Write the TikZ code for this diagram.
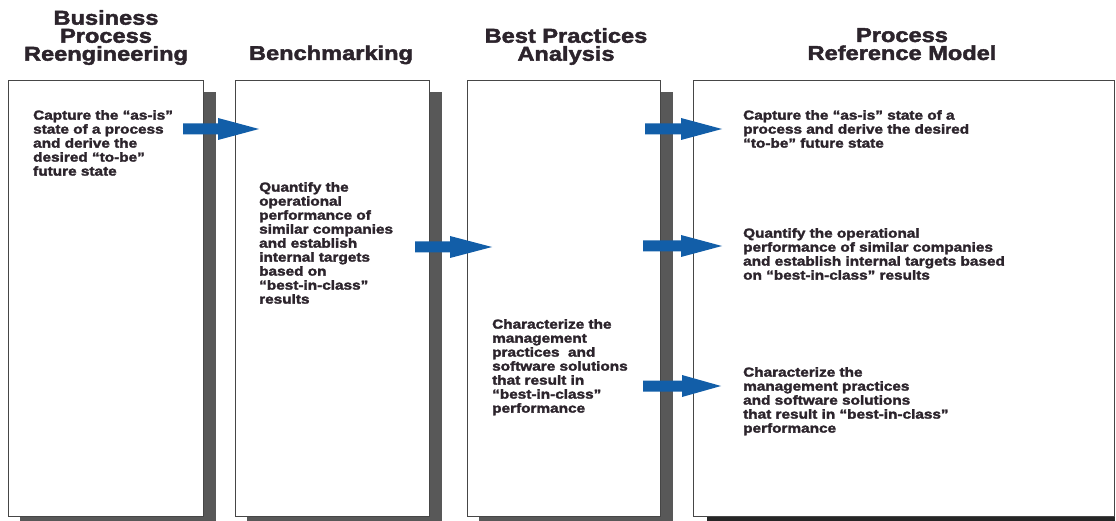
\documentclass[tikz,border=0pt]{standalone}
\usepackage{fontspec}
\newfontfamily\heavy{Liberation Sans Bold}[FakeStretch=1.18,FakeBold=2.2]
\usetikzlibrary{backgrounds}
\definecolor{arrowblue}{RGB}{18,94,168}
\definecolor{inkdark}{RGB}{44,36,44}
\definecolor{shadowgray}{RGB}{88,88,88}
\definecolor{framegray}{RGB}{70,70,70}
\tikzset{
  title/.style={font=\heavy\fontsize{20}{18}\selectfont, text=inkdark, align=center, inner sep=0pt},
  body/.style={font=\heavy\fontsize{13}{14}\selectfont, text=inkdark, align=left, inner sep=0pt, anchor=north west},
  panel/.style={draw=framegray, line width=1pt, fill=white, minimum height=435pt, inner sep=0pt},
  flowarrow/.style={fill=arrowblue}
}
% block arrow: tail x, head start x, tip x, centre y
\newcommand\blockarrow[4]{%
  \fill[flowarrow] (#1,#4-5.5) -- (#2,#4-5.5) -- (#2,#4-11) -- (#3,#4) -- (#2,#4+11) -- (#2,#4+5.5) -- (#1,#4+5.5) -- cycle;}
\begin{document}
\begin{tikzpicture}[x=1pt,y=-1pt]
\useasboundingbox (0,0) rectangle (1116,521);

% panels
\node[panel, minimum width=195pt] (box1) at (105.5,298.5) {};
\node[panel, minimum width=194pt] (box2) at (332,298.5) {};
\node[panel, minimum width=193pt] (box3) at (563.5,298.5) {};
\node[panel, minimum width=421pt] (box4) at (904,298.5) {};

\begin{scope}[on background layer]
  \foreach \b in {box1,box2,box3}
    \fill[shadowgray] ([xshift=12pt,yshift=-12pt]\b.north west) rectangle ([xshift=12pt,yshift=-5pt]\b.south east);
  \fill[black!85] ([xshift=14pt,yshift=-12pt]box4.north west) rectangle ([yshift=-5pt]box4.south east);
\end{scope}

% column titles
\node[title, anchor=north] (t1) at (106,10) {Business\\Process\\Reengineering};
\node[title, anchor=base] (t2) at (331,60) {Benchmarking};
\node[title, anchor=north] (t3) at (566,28) {Best Practices\\Analysis};
\node[title, anchor=north] (t4) at (902,28) {Process\\Reference Model};

% panel texts
\node[body] (b1) at (33,110) {Capture the “as-is”\\state of a process\\and derive the\\desired “to-be”\\future state};
\node[body] (b2) at (259,182) {Quantify the\\operational\\performance of\\similar companies\\and establish\\internal targets\\based on\\“best-in-class”\\results};
\node[body] (b3) at (492,319) {Characterize the\\management\\practices\ \ and\\software solutions\\that result in\\“best-in-class”\\performance};
\node[body] (b4a) at (743,110) {Capture the “as-is” state of a\\process and derive the desired\\“to-be” future state};
\node[body] (b4b) at (743,228) {Quantify the operational\\performance of similar companies\\and establish internal targets based\\on “best-in-class” results};
\node[body] (b4c) at (743,367) {Characterize the\\management practices\\and software solutions\\that result in “best-in-class”\\performance};

% flow arrows
\blockarrow{183}{218}{259}{129}
\blockarrow{415}{450}{492}{247}
\blockarrow{645}{681}{722}{129}
\blockarrow{643}{681}{722}{246}
\blockarrow{643}{682}{721}{386}
\end{tikzpicture}
\end{document}
